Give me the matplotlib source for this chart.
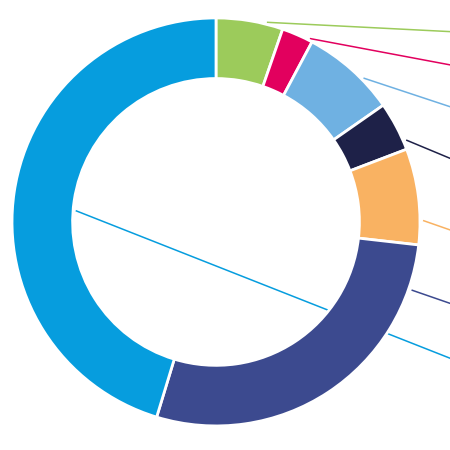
import numpy as np
import matplotlib
matplotlib.use("Agg")
import matplotlib.pyplot as plt

# slice shares, clockwise from 12 o'clock
segments = ["green", "magenta", "light blue", "navy", "orange", "indigo", "blue"]
shares = [5.3, 2.5, 7.5, 3.9, 7.6, 27.9, 45.3]
colors = ["#9CCB5B", "#E2005E", "#6FB1E2", "#1E2148", "#F9B262", "#3C4A8F", "#069DDE"]

# leader lines: start angle (deg clockwise from top), start radius, end y at right edge
leader_angle = [14.3, 27.1, 45.7, 66.7, 89.6, 109.2, 274.6]
leader_r = [1.01, 1.01, 1.01, 1.015, 1.015, 1.015, 0.69]
leader_end_y = [0.933, 0.770, 0.565, 0.312, -0.039, -0.399, -0.668]

fig = plt.figure(figsize=(4.5, 4.5), dpi=100)
ax = fig.add_axes([0, 0, 1, 1])

ax.pie(shares, colors=colors, startangle=90, counterclock=False, radius=1,
       wedgeprops=dict(width=0.297, edgecolor="white", linewidth=2))

x_right = 1.16
for ang, r, ey, c in zip(leader_angle, leader_r, leader_end_y, colors):
    t = np.deg2rad(ang)
    sx, sy = r * np.sin(t), r * np.cos(t)
    ax.plot([sx, x_right], [sy, ey + (ey - sy) * (x_right - 1.147) / (1.147 - sx)],
            color=c, lw=1.1, zorder=0, solid_capstyle="butt")

ax.set_xlim(-1.0588, 1.147)
ax.set_ylim(-1.118, 1.088)
ax.set_aspect("equal")
ax.axis("off")

fig.savefig("out.png", dpi=100, facecolor="white")
